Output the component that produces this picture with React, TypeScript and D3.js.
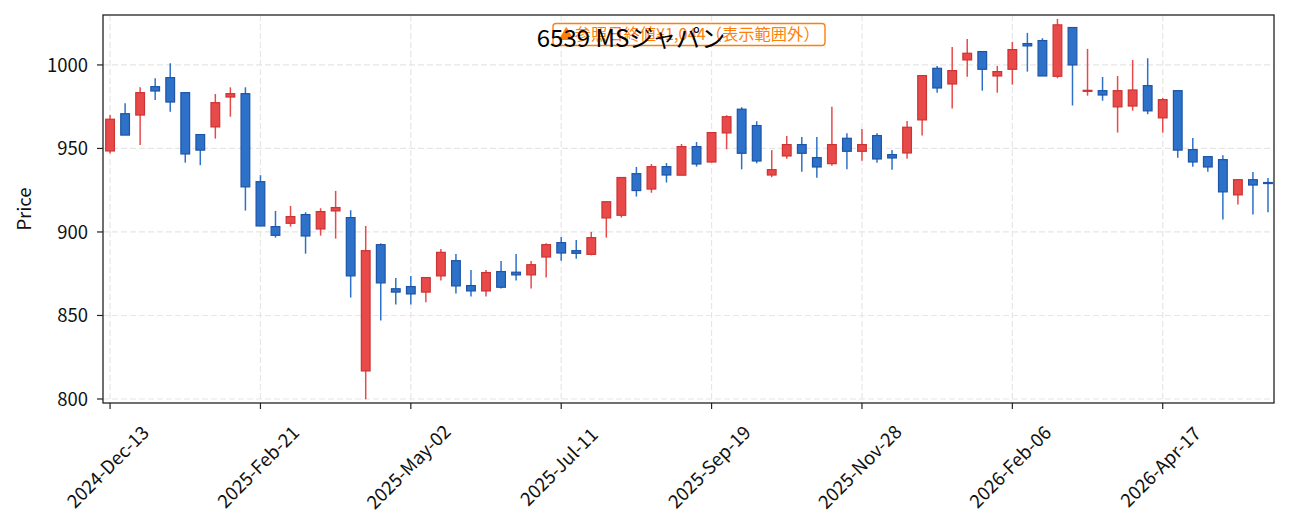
import React from "react";
import * as d3 from "d3";

const opens = [948.5,970.8,970,987,992.4,983.4,958.3,962.9,980.8,982.8,930.1,903.2,905.2,910.4,901.8,912.6,908.6,816.8,892.4,866,867.3,864,873.7,882.8,867.9,864.7,876.3,875.9,874.3,885,893.6,888.8,886.6,908.4,910,934.9,925.7,939.1,934,951.1,941.9,959.3,973.5,963.7,934.1,945.5,952.3,944.5,940.9,956.1,948.3,957.7,946.3,947.3,967.1,998,988.6,1003,1008,993.4,997.4,1012.8,1014.6,993.2,1022.4,984.4,984.6,974.9,975.4,987.6,968.3,984.6,949.3,945.1,943.3,922.2,931.3,929.6];
const highs = [970,977,986.6,992,1001,983.4,958.3,982.6,986.6,986.6,934,912.6,915.6,911.8,914.2,924.6,913,903.6,893.2,872.5,873.7,872.7,889.8,886.8,877.2,877.2,882.6,886.8,882.6,893.2,897,895.2,900,918.1,932.6,938.9,940.7,941.3,952.7,953.9,959.5,969.9,974.7,966.3,949,957.5,956.9,956.9,974.9,959.1,961.7,959.1,949,966.5,993.6,999.4,1010.8,1015.6,1008,999.4,1013.8,1019.2,1016,1027.5,1022.4,1009.6,992.8,993.4,1003,1004,980.2,984.6,956.3,945.1,945.9,931.3,935.9,932.3];
const lows = [947,958,952,979,972,941.5,940,955.9,969,912.8,903.6,896.6,903.2,887,897.8,896,860.7,799.8,847,856.5,856.5,857.9,870.9,863.1,861.3,861.3,866.1,870.9,866.1,872.7,882.8,884,886,896.6,908.6,921.2,923.5,929.6,934,939.1,941.5,949.5,937.5,941.1,932.8,943.9,936.1,932.5,939.7,937.5,942.7,941.5,937.3,943.9,957.7,983.4,973.9,993,984.6,983.4,988.2,996,993.4,992,975.7,981.6,978.6,959.5,972.6,970.5,959.5,944.5,939.1,936.1,907.4,916.4,910.4,911.8];
const closes = [967.5,958,983.4,984.4,977.8,946.7,949,977.4,982.8,927,903.6,898,909.2,897.6,912.2,914.6,873.7,888.8,869.5,864,862.9,872.7,887.8,867.7,864.7,875.7,866.9,874.3,880.4,892.4,887.4,887.2,896.6,918.1,932.6,924.8,939.1,934.1,951.1,940.7,959.5,969,947.1,942.5,937.3,952.3,947.1,938.9,952.3,948.3,952.3,943.7,944.3,962.7,993.6,986.2,996.6,1007,997.4,996,1009.2,1011.4,993.4,1024,1000,984.8,982,984.6,985,972.5,979.2,949,941.9,938.9,924,931.3,928.1,929.4];

const startDate = "2024-12-13";
const yTicks = [800, 850, 900, 950, 1000];
const titleText = "6539 MSジャパン";
const noteText = "▲参照日終値¥1,044（表示範囲外）";
const yLabel = "Price";

const W = 1289, H = 531;
const M = { left: 103, right: 1274, top: 15, bottom: 403 };
const FONT = "'Noto Sans CJK JP', 'Noto Sans', sans-serif";
const TICK_FS = 18.5;

export default function App() {
  const parse = d3.timeParse("%Y-%m-%d");
  const d0 = parse(startDate) as Date;
  const data = opens.map((o, i) => ({
    i,
    date: d3.timeWeek.offset(d0, i),
    o, h: highs[i], l: lows[i], c: closes[i],
  }));
  const n = data.length;
  const x = d3.scaleLinear().domain([-0.47, n - 0.6]).range([M.left, M.right]);
  const y = d3.scaleLinear().domain([797.6, 1029.9]).range([M.bottom, M.top]);
  const fmt = d3.timeFormat("%Y-%b-%d");
  const xTicks = d3.range(0, n, 10);
  const bw = 0.58 * (x(1) - x(0));

  const up = { fill: "#e84a4a", stroke: "#cc3333" };
  const dn = { fill: "#2d72c8", stroke: "#1d54a6" };

  return (
    <svg width={W} height={H} style={{ display: "block", position: "absolute", left: 0, top: 0, background: "#fff" }} fontFamily={FONT}>
      <rect x={0} y={0} width={W} height={H} fill="#fff" />
      {/* grid */}
      <g stroke="#e6e6e6" strokeDasharray="6,3" strokeWidth={1.2}>
        {yTicks.map((t) => (
          <line key={"gy" + t} x1={M.left} x2={M.right} y1={y(t)} y2={y(t)} />
        ))}
        {xTicks.map((t) => (
          <line key={"gx" + t} x1={x(t)} x2={x(t)} y1={M.top} y2={M.bottom} />
        ))}
      </g>
      {/* candles */}
      {data.map((d) => {
        const isUp = d.c >= d.o;
        const col = isUp ? up : dn;
        const top = y(Math.max(d.o, d.c));
        const bot = y(Math.min(d.o, d.c));
        const cx = x(d.i);
        return (
          <g key={d.i}>
            <line x1={cx} x2={cx} y1={y(d.h)} y2={y(d.l)} stroke={col.fill} strokeWidth={1.5} />
            <rect x={cx - bw / 2} y={top} width={bw} height={Math.max(bot - top, 1)} fill={col.fill} stroke={col.stroke} strokeWidth={1.2} />
          </g>
        );
      })}
      {/* frame */}
      <rect x={M.left} y={M.top} width={M.right - M.left} height={M.bottom - M.top} fill="none" stroke="#222" strokeWidth={1.3} />
      {/* y axis */}
      {yTicks.map((t) => (
        <g key={"yt" + t}>
          <line x1={M.left - 6} x2={M.left} y1={y(t)} y2={y(t)} stroke="#222" strokeWidth={1.2} />
          <text x={M.left - 15} y={y(t)} dy="0.36em" textAnchor="end" fontSize={TICK_FS} fill="#111">{t}</text>
        </g>
      ))}
      <text transform={`translate(31,${(M.top + M.bottom) / 2}) rotate(-90)`} textAnchor="middle" fontSize={TICK_FS} fill="#111">{yLabel}</text>
      {/* x axis */}
      {xTicks.map((t) => (
        <g key={"xt" + t}>
          <line x1={x(t)} x2={x(t)} y1={M.bottom} y2={M.bottom + 6} stroke="#222" strokeWidth={1.2} />
          <text transform={`translate(${x(t) - 2},467) rotate(-45)`} textAnchor="middle" dy="0.35em" fontSize={TICK_FS} fill="#111">{fmt(data[t].date)}</text>
        </g>
      ))}
      {/* note box */}
      <rect x={553} y={23.5} width={272} height={22} rx={3} fill="#fff" stroke="#ff7f0e" strokeWidth={1.4} />
      <text x={689} y={34.5} dy="0.36em" textAnchor="middle" fontSize={16.3} fill="#ff7f0e">{noteText}</text>
      {/* title */}
      <text x={631} y={47} textAnchor="middle" fontSize={24} fill="#000">{titleText}</text>
    </svg>
  );
}
